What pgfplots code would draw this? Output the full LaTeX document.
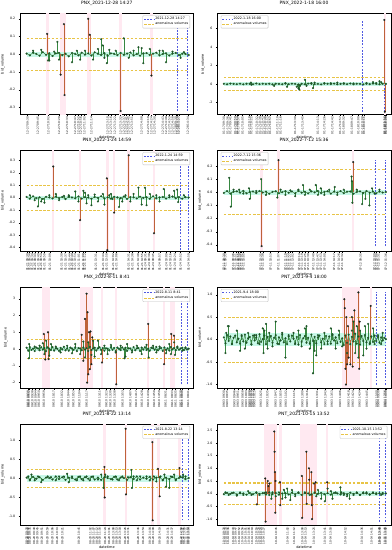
\documentclass[border=0pt]{standalone}
\usepackage{fontspec}
\setmainfont{DejaVu Sans}
\usepackage{pgfplots}
\pgfplotsset{compat=1.18}
\usepgfplotslibrary{groupplots}
\definecolor{stemg}{RGB}{55,135,65}
\definecolor{markg}{RGB}{30,85,40}
\definecolor{stemr}{RGB}{190,98,58}
\definecolor{pinkb}{RGB}{255,233,241}
\definecolor{cyanb}{RGB}{200,248,232}
\definecolor{thr}{RGB}{232,196,70}
\definecolor{evt}{RGB}{80,90,225}
\pgfplotsset{
  basel/.style={color=stemg, line width=0.5pt, mark=*, mark size=0.95pt, mark options={color=markg, line width=0.2pt}, forget plot},
  normal/.style={ycomb, color=stemg, line width=0.45pt, mark=*, mark size=0.95pt, mark options={color=markg, line width=0.2pt}, forget plot},
  anom/.style={ycomb, color=stemr, line width=0.55pt, mark=*, mark size=0.95pt, mark options={draw=black!85, fill=markg!50!black, line width=0.2pt}, forget plot},
  thrline/.style={color=thr, dash pattern=on 2.6pt off 1.6pt, line width=1.05pt, mark=none, unbounded coords=jump, forget plot},
  evtline/.style={color=evt, dash pattern=on 1.8pt off 1.4pt, line width=1.05pt, mark=none, unbounded coords=jump, forget plot},
  band/.style={fill=pinkb, draw=none, forget plot},
  cband/.style={fill=cyanb, draw=none, forget plot},
  legNE/.style={legend style={at={(0.98,0.98)}, anchor=north east}},
  legNW/.style={legend style={at={(0.02,0.98)}, anchor=north west}},
  one/.style={yticklabel style={/pgf/number format/.cd, fixed, fixed zerofill, precision=1}},
  zero/.style={yticklabel style={/pgf/number format/.cd, fixed, precision=0}},
}
\newcommand{\legs}[1]{%
\addlegendimage{color=evt, dash pattern=on 1.8pt off 1.4pt, line width=1.05pt}\addlegendentry{#1}
\addlegendimage{color=thr, dash pattern=on 2.6pt off 1.6pt, line width=1.05pt}\addlegendentry{anomalous volumes}}
\begin{document}
\begin{tikzpicture}
\begin{groupplot}[
  group style={group size=2 by 4, horizontal sep=24pt, vertical sep=36pt},
  scale only axis, width=175pt, height=102pt,
  xmin=-4, xmax=103,
  axis line style={line width=0.4pt},
  tick style={line width=0.3pt, black},
  major tick length=1.5pt, tick align=outside,
  xtick pos=lower, ytick pos=left,
  /pgf/number format/assume math mode=true,
  yticklabel style={font=\fontsize{3.2}{3.6}\selectfont},
  xticklabel style={rotate=90, anchor=east, font=\fontsize{2.8}{3.2}\selectfont, inner sep=0.8pt},
  xlabel={datetime}, ylabel={bid\_volume},
  xlabel style={font=\fontsize{3.5}{4}\selectfont, inner sep=1pt},
  ylabel style={font=\fontsize{3.5}{4}\selectfont, inner sep=1pt},
  title style={font=\fontsize{4.5}{5}\selectfont, inner sep=1.5pt},
  legend style={font=\fontsize{3.3}{3.8}\selectfont, draw=black!25, rounded corners=0.8pt, inner sep=0.8pt, row sep=-0.6pt, nodes={inner sep=0.9pt}},
  legend cell align=left,
  legend image code/.code={\draw[#1] (0pt,0pt) -- (10pt,0pt);},
]
% ---------------- 1 ----------------
\nextgroupplot[title={PNX\_2021-12-28 14:27}, legNE, one,
  ymin=-0.34, ymax=0.23, ytick={-0.3,-0.2,-0.1,0,0.1,0.2},
  xtick={0.6,7,13.5,20,25,30,32,33.5,35.7,40,50,52,54.5,58,60,61.6,63,65,71,75,77,79,84,86,88,90,92,93,94,99.5},
  xticklabels={12-27 09:30,12-27 09:45,12-27 10:02,12-27 10:20,12-27 10:33,12-27 10:47,12-27 10:52,12-27 10:56,12-27 11:02,12-27 11:14,12-27 13:10,12-27 13:16,12-27 13:22,12-27 13:32,12-27 13:37,12-27 13:41,12-27 13:45,12-27 13:51,12-27 14:08,12-27 14:19,12-27 14:24,12-27 14:30,12-27 14:43,12-27 14:48,12-27 14:53,12-27 14:58,12-28 09:30,12-28 14:20,12-28 14:27,12-28 14:34}]
\legs{2021-12-28 14:27}
\addplot[band] coordinates {(11.8,-0.34)(11.8,0.23)(13.6,0.23)(13.6,-0.34)} --cycle;
\addplot[band] coordinates {(20.3,-0.34)(20.3,0.23)(24.6,0.23)(24.6,-0.34)} --cycle;
\addplot[band] coordinates {(37.2,-0.34)(37.2,0.23)(39.8,0.23)(39.8,-0.34)} --cycle;
\addplot[band] coordinates {(57.2,-0.34)(57.2,0.23)(58.8,0.23)(58.8,-0.34)} --cycle;
\addplot[band] coordinates {(76.2,-0.34)(76.2,0.23)(77.8,0.23)(77.8,-0.34)} --cycle;
\addplot[cband] coordinates {(0,-0.015)(0,0.015)(100,0.015)(100,-0.015)} --cycle;
\addplot[thrline] coordinates {(0,0.09)(100,0.09)(100,nan)(0,-0.09)(100,-0.09)};
\addplot[evtline] coordinates {(93,-0.32)(93,0.2)(93,nan)(99.4,-0.32)(99.4,0.2)};
\addplot[basel] table[x expr=2*\coordindex, y index=0, header=false, row sep=\\] {0.004\\ -0.006\\ 0.010\\ 0.002\\ -0.008\\ 0.012\\ -0.003\\ 0.006\\ -0.010\\ 0.005\\ 0.008\\ -0.005\\ 0.003\\ -0.012\\ 0.007\\ 0.002\\ -0.006\\ 0.009\\ -0.002\\ 0.005\\ -0.007\\ 0.011\\ 0.003\\ -0.004\\ 0.006\\ -0.009\\ 0.005\\ 0.002\\ -0.005\\ 0.008\\ -0.003\\ 0.004\\ 0.010\\ -0.006\\ 0.002\\ -0.008\\ 0.005\\ 0.007\\ -0.004\\ 0.003\\ 0.009\\ -0.006\\ 0.002\\ 0.006\\ -0.007\\ 0.004\\ 0.008\\ -0.005\\ 0.003\\ 0.002\\ -0.004\\};
\addplot[normal] coordinates {(4,0.02)(9,0.025)(13.2,-0.035)(14,-0.035)(17,0.015)(19,0.07)(20,-0.03)(28,-0.045)(31,0.02)(33,-0.03)(36,0.02)(41,-0.03)(44,0.03)(46,0.085)(47,0.05)(48,-0.02)(49.5,-0.05)(51,0.025)(55,0.02)(60,0.09)(63,-0.02)(66,0.02)(69,0.04)(71,0.035)(72,-0.05)(76,0.03)(82,0.02)(84,0.02)(86,-0.045)(90,0.015)(95,-0.02)(97,0.012)};
\addplot[anom] coordinates {(12.7,0.115)(21,-0.115)(23,0.17)(23.4,-0.23)(38,0.2)(39,0.11)(58,-0.32)(77,-0.12)};
% ---------------- 2 ----------------
\nextgroupplot[title={PNX\_2022-1-18 16:00}, legNW, zero,
  ymin=-3.3, ymax=7.6, ytick={-2,0,2,4,6},
  xtick={0,2.4,4,7,8.2,9,11.6,15.7,17,20.4,22.2,23.9,25.5,27,28.6,33,35,44,48.6,58,62,67,71.8,73.9,79,83,85.5,86.5,99,99.6,100},
  xticklabels={01-17 09:30,01-17 09:36,01-17 09:41,01-17 09:50,01-17 09:54,01-17 09:57,01-17 10:05,01-17 10:18,01-17 10:22,01-17 10:32,01-17 10:38,01-17 10:43,01-17 10:48,01-17 10:52,01-17 10:57,01-17 11:10,01-17 11:16,01-17 13:30,01-17 13:45,01-17 14:13,01-17 14:26,01-17 14:42,01-17 14:57,01-18 09:32,01-18 09:47,01-18 10:00,01-18 10:08,01-18 10:11,01-18 15:52,01-18 15:56,01-18 16:00}]
\legs{2022-1-18 16:00}
\addplot[band] coordinates {(98.6,-3.3)(98.6,7.6)(100,7.6)(100,-3.3)} --cycle;
\addplot[cband] coordinates {(0,-0.2)(0,0.2)(100,0.2)(100,-0.2)} --cycle;
\addplot[thrline] coordinates {(0,0.7)(100,0.7)(100,nan)(0,-0.7)(100,-0.7)};
\addplot[evtline] coordinates {(85.5,-3.0)(85.5,6.9)(85.5,nan)(99,-3.0)(99,6.9)};
\addplot[basel] table[x expr=2*\coordindex, y index=0, header=false, row sep=\\] {0.02\\ -0.03\\ 0.04\\ 0.01\\ -0.02\\ 0.03\\ -0.04\\ 0.02\\ 0.01\\ -0.03\\ 0.05\\ -0.02\\ 0.02\\ -0.01\\ 0.03\\ -0.04\\ 0.02\\ 0.01\\ -0.03\\ 0.04\\ -0.02\\ 0.03\\ 0.01\\ -0.05\\ 0.02\\ -0.03\\ 0.04\\ 0.02\\ -0.02\\ 0.01\\ -0.04\\ 0.03\\ 0.02\\ -0.01\\ 0.04\\ -0.03\\ 0.01\\ 0.02\\ -0.02\\ 0.05\\ -0.03\\ 0.02\\ 0.01\\ -0.04\\ 0.03\\ -0.02\\ 0.04\\ 0.01\\ -0.03\\ 0.02\\ 0.01\\};
\addplot[normal] coordinates {(16.7,0.15)(17,-0.08)(31,-0.2)(38,0.1)(39,-0.3)(45,-0.3)(46,-0.45)(46.5,-0.6)(47,-0.2)(50,0.45)(51,-0.2)(54,0.1)(55,-0.45)(56,0.15)(62,0.1)(66,0.08)(70,0.15)(74,0.08)(80,0.05)(88,0.1)(92,0.2)(94,0.1)(96,0.3)(97,0.2)};
\addplot[anom] coordinates {(99,6.9)(99.3,-3.0)};
% ---------------- 3 ----------------
\nextgroupplot[title={PNX\_2022-1-24 14:59}, legNE, one,
  ymin=-0.43, ymax=0.38, ytick={-0.4,-0.3,-0.2,-0.1,0,0.1,0.2,0.3},
  xtick={0.4,1.8,3.5,5.3,7.2,9,10.9,14.4,21.6,24,26.5,28.1,29.8,32.2,34.9,35.9,42.7,47.2,49.3,53.4,55.4,63,65.3,68.8,71.3,73.3,75.6,78,82.1,86.2,88.7,91.4,95,100},
  xticklabels={01-21 09:30,01-21 09:34,01-21 09:39,01-21 09:44,01-21 09:49,01-21 09:54,01-21 09:59,01-21 10:09,01-21 10:30,01-21 10:37,01-21 10:44,01-21 10:49,01-21 10:54,01-21 11:01,01-21 11:09,01-21 11:12,01-21 13:31,01-21 13:44,01-21 13:50,01-21 14:02,01-21 14:08,01-21 14:31,01-21 14:38,01-21 14:48,01-21 14:55,01-24 09:31,01-24 09:38,01-24 09:45,01-24 09:57,01-24 10:09,01-24 10:16,01-24 10:24,01-24 14:52,01-24 14:59}]
\legs{2022-1-24 14:59}
\addplot[band] coordinates {(15.6,-0.43)(15.6,0.38)(17.2,0.38)(17.2,-0.43)} --cycle;
\addplot[band] coordinates {(32.2,-0.43)(32.2,0.38)(33.8,0.38)(33.8,-0.43)} --cycle;
\addplot[band] coordinates {(48.7,-0.43)(48.7,0.38)(50.6,0.38)(50.6,-0.43)} --cycle;
\addplot[band] coordinates {(53.2,-0.43)(53.2,0.38)(54.8,0.38)(54.8,-0.43)} --cycle;
\addplot[band] coordinates {(62.2,-0.43)(62.2,0.38)(63.8,0.38)(63.8,-0.43)} --cycle;
\addplot[band] coordinates {(77.8,-0.43)(77.8,0.38)(79.4,0.38)(79.4,-0.43)} --cycle;
\addplot[cband] coordinates {(0,-0.015)(0,0.015)(100,0.015)(100,-0.015)} --cycle;
\addplot[thrline] coordinates {(0,0.1)(100,0.1)(100,nan)(0,-0.1)(100,-0.1)};
\addplot[evtline] coordinates {(95,-0.42)(95,0.34)(95,nan)(100,-0.42)(100,0.34)};
\addplot[basel] table[x expr=2*\coordindex, y index=0, header=false, row sep=\\] {0.006\\ -0.008\\ 0.011\\ -0.004\\ 0.003\\ -0.010\\ 0.007\\ 0.002\\ -0.006\\ 0.009\\ -0.003\\ 0.005\\ -0.011\\ 0.008\\ 0.002\\ -0.005\\ 0.010\\ -0.007\\ 0.004\\ 0.001\\ -0.009\\ 0.006\\ -0.002\\ 0.012\\ -0.006\\ 0.003\\ -0.008\\ 0.007\\ 0.002\\ -0.004\\ 0.009\\ -0.010\\ 0.005\\ 0.003\\ -0.006\\ 0.008\\ -0.002\\ 0.004\\ -0.009\\ 0.011\\ -0.005\\ 0.002\\ 0.006\\ -0.007\\ 0.003\\ 0.009\\ -0.004\\ 0.005\\ -0.008\\ 0.004\\ 0.002\\};
\addplot[normal] coordinates {(2,0.02)(5,-0.02)(7,-0.07)(9,-0.03)(11,-0.04)(14,0.02)(18,0.03)(20,-0.02)(23,0.015)(26,0.02)(30,0.05)(32,-0.03)(35,0.055)(36,0.04)(37,-0.045)(38,0.02)(40,-0.06)(42,0.025)(44,-0.03)(47,0.03)(48,-0.055)(51,0.02)(52,0.03)(53,-0.01)(57,-0.075)(59,-0.03)(61,0.02)(64,-0.03)(66,0.03)(69,0.08)(71,-0.055)(73,0.08)(74,-0.06)(76,0.03)(80,0.02)(82,-0.03)(84.6,0.07)(88,0.02)(91,0.055)(92.8,0.065)(93.5,-0.035)(97,0.02)};
\addplot[anom] coordinates {(16.4,0.25)(33,-0.18)(49.5,0.155)(49.8,-0.42)(54,-0.12)(63,0.34)(78.6,-0.285)};
% ---------------- 4 ----------------
\nextgroupplot[title={PNX\_2022-7-12 15:36}, legNW, one,
  ymin=-0.45, ymax=0.32, ytick={-0.4,-0.3,-0.2,-0.1,0,0.1,0.2},
  xtick={0,1,5.7,7.3,8.8,9.8,10.8,12.2,22.7,24.1,28.8,33.7,38,39.4,40.8,42.4,46.5,48.2,50.2,52,55.3,57.8,59.8,62.2,68,71,73,84.3,92.9,94.1,95.5,100},
  xticklabels={07-11 09:30,07-11 09:33,07-11 09:46,07-11 09:51,07-11 09:55,07-11 09:58,07-11 10:01,07-11 10:05,07-11 10:35,07-11 10:39,07-11 10:53,07-11 11:07,07-11 11:19,07-11 11:23,07-11 11:27,07-11 13:02,07-11 13:14,07-11 13:19,07-11 13:25,07-11 13:30,07-11 13:40,07-11 13:47,07-11 13:53,07-11 14:00,07-11 14:17,07-11 14:26,07-11 14:32,07-12 09:35,07-12 10:00,07-12 10:04,07-12 15:31,07-12 15:36}]
\legs{2022-7-12 15:36}
\addplot[band] coordinates {(22.3,-0.45)(22.3,0.32)(24.2,0.32)(24.2,-0.45)} --cycle;
\addplot[band] coordinates {(33,-0.45)(33,0.32)(34.6,0.32)(34.6,-0.45)} --cycle;
\addplot[band] coordinates {(79,-0.45)(79,0.32)(80.6,0.32)(80.6,-0.45)} --cycle;
\addplot[cband] coordinates {(0,-0.02)(0,0.02)(100,0.02)(100,-0.02)} --cycle;
\addplot[thrline] coordinates {(0,0.17)(100,0.17)(100,nan)(0,-0.17)(100,-0.17)};
\addplot[evtline] coordinates {(93.5,-0.41)(93.5,0.245)(93.5,nan)(99.8,-0.41)(99.8,0.245)};
\addplot[basel] table[x expr=2*\coordindex, y index=0, header=false, row sep=\\] {-0.005\\ 0.009\\ -0.010\\ 0.004\\ 0.007\\ -0.003\\ 0.011\\ -0.008\\ 0.002\\ 0.006\\ -0.006\\ 0.010\\ -0.002\\ 0.005\\ -0.011\\ 0.003\\ 0.008\\ -0.007\\ 0.001\\ 0.009\\ -0.004\\ 0.006\\ -0.009\\ 0.012\\ -0.003\\ 0.004\\ -0.008\\ 0.007\\ -0.001\\ 0.010\\ -0.006\\ 0.003\\ 0.008\\ -0.010\\ 0.005\\ -0.002\\ 0.009\\ -0.007\\ 0.004\\ 0.006\\ -0.011\\ 0.002\\ 0.007\\ -0.005\\ 0.010\\ -0.003\\ 0.005\\ -0.008\\ 0.006\\ -0.002\\ 0.003\\};
\addplot[normal] coordinates {(3.3,0.11)(4.3,-0.11)(6,0.02)(9.4,0.02)(12,-0.01)(15.5,0.03)(16,-0.05)(20,0.01)(23,0.10)(26,-0.02)(33,-0.04)(35,0.02)(38,-0.02)(41,0.015)(44,-0.03)(46,0.02)(48.8,0.055)(50,-0.02)(53,0.02)(56.7,0.055)(58,-0.02)(59.8,0.03)(62,-0.02)(65,0.02)(68.4,0.04)(70,-0.02)(74,0.02)(78.8,0.12)(79,0.085)(79.3,-0.08)(82,0.02)(85.3,-0.09)(87.3,-0.05)(89.8,-0.1)(91.4,0.03)(93,-0.01)(96,0.02)};
\addplot[anom] coordinates {(23.3,-0.41)(33.7,0.245)(79.8,0.23)};
% ---------------- 5 ----------------
\nextgroupplot[title={PNX\_2022-8-11 8:41}, legNE, zero,
  ymin=-2.33, ymax=3.7, ytick={-2,-1,0,1,2,3},
  xtick={0.8,1.4,3.5,5.5,7.5,10.6,16.7,21.7,25.8,28.9,32.5,37,45,49.2,51.6,54.3,59.3,64,67.5,71.1,75,78.7,81.7,85.8,89.8,91.9,95,96,99.6},
  xticklabels={08-10 09:30,08-10 09:32,08-10 09:38,08-10 09:44,08-10 09:50,08-10 09:59,08-10 10:17,08-10 10:32,08-10 10:44,08-10 10:53,08-10 11:04,08-10 11:17,08-10 13:11,08-10 13:23,08-10 13:30,08-10 13:38,08-10 13:53,08-10 14:07,08-10 14:17,08-10 14:28,08-10 14:39,08-10 14:50,08-10 14:59,08-11 08:31,08-11 08:33,08-11 08:35,08-11 08:38,08-11 08:40,08-11 08:41}]
\legs{2022-8-11 8:41}
\addplot[band] coordinates {(9.5,-2.33)(9.5,3.7)(14.5,3.7)(14.5,-2.33)} --cycle;
\addplot[band] coordinates {(33,-2.33)(33,3.7)(41,3.7)(41,-2.33)} --cycle;
\addplot[band] coordinates {(45.8,-2.33)(45.8,3.7)(47.2,3.7)(47.2,-2.33)} --cycle;
\addplot[band] coordinates {(54.6,-2.33)(54.6,3.7)(56,3.7)(56,-2.33)} --cycle;
\addplot[band] coordinates {(74.2,-2.33)(74.2,3.7)(75.8,3.7)(75.8,-2.33)} --cycle;
\addplot[band] coordinates {(84,-2.33)(84,3.7)(85.6,3.7)(85.6,-2.33)} --cycle;
\addplot[band] coordinates {(88.5,-2.33)(88.5,3.7)(91.8,3.7)(91.8,-2.33)} --cycle;
\addplot[cband] coordinates {(0,-0.12)(0,0.12)(100,0.12)(100,-0.12)} --cycle;
\addplot[thrline] coordinates {(0,0.58)(100,0.58)(100,nan)(0,-0.58)(100,-0.58)};
\addplot[evtline] coordinates {(95.3,-2.1)(95.3,3.3)(95.3,nan)(99.4,-2.1)(99.4,3.3)};
\addplot[basel] table[x expr=\coordindex, y index=0, header=false, row sep=\\] {0.08\\ -0.10\\ 0.12\\ -0.05\\ 0.03\\ -0.12\\ 0.09\\ 0.04\\ -0.07\\ 0.11\\ -0.03\\ 0.06\\ -0.13\\ 0.10\\ 0.02\\ -0.06\\ 0.12\\ -0.09\\ 0.05\\ 0.01\\ -0.11\\ 0.07\\ -0.02\\ 0.14\\ -0.08\\ 0.04\\ -0.10\\ 0.09\\ 0.03\\ -0.05\\ 0.11\\ -0.12\\ 0.06\\ 0.04\\ -0.07\\ 0.10\\ -0.03\\ 0.05\\ -0.11\\ 0.13\\ -0.06\\ 0.03\\ 0.08\\ -0.09\\ 0.04\\ 0.11\\ -0.05\\ 0.06\\ -0.10\\ 0.05\\ 0.02\\ -0.08\\ 0.12\\ -0.04\\ 0.07\\ -0.13\\ 0.09\\ 0.01\\ -0.06\\ 0.10\\ -0.02\\ 0.08\\ -0.11\\ 0.05\\ 0.03\\ -0.09\\ 0.12\\ -0.07\\ 0.04\\ 0.06\\ -0.12\\ 0.09\\ -0.03\\ 0.11\\ -0.06\\ 0.02\\ -0.10\\ 0.08\\ 0.05\\ -0.04\\ 0.13\\ -0.08\\ 0.03\\ 0.07\\ -0.11\\ 0.10\\ -0.05\\ 0.04\\ -0.09\\ 0.12\\ -0.02\\ 0.06\\ -0.07\\ 0.09\\ -0.04\\ 0.03\\ 0.08\\ -0.06\\ 0.05\\ -0.03\\ 0.02\\};
\addplot[normal] coordinates {(1.4,-0.55)(1.6,0.3)(5,0.15)(8,0.2)(10,0.35)(11,-0.3)(12,0.5)(14,-0.4)(15,0.3)(18,0.15)(21,-0.2)(25,0.2)(28,-0.25)(30,0.3)(33,-0.3)(35,0.45)(36,-0.5)(38,0.4)(40,-0.35)(41,0.5)(42,-0.45)(44,0.5)(46,-0.3)(48,0.2)(50,-0.3)(52,0.25)(55,-0.2)(58,0.2)(60.4,-0.55)(61,-0.45)(62,0.3)(65,-0.2)(68,0.2)(71,-0.3)(74,0.25)(75.3,-0.5)(78,0.2)(80,-0.2)(82,0.15)(86,-0.25)(88,0.3)(89,-0.3)(91,0.4)(91.5,-0.35)(93,0.15)(96,-0.1)(98,0.1)};
\addplot[anom] coordinates {(10.6,0.9)(11.5,-0.62)(13.2,1.0)(13.6,-0.6)(34,0.85)(35,-0.7)(36,1.8)(37,3.3)(37.3,-2.0)(37.6,2.2)(38,-1.5)(38.5,1.0)(39,-1.2)(39.4,1.05)(40,-0.9)(40.5,0.7)(46.5,-0.8)(55.3,-2.1)(75,1.5)(84.8,-0.9)(89.2,0.9)(90.9,0.8)};
% ---------------- 6 ----------------
\nextgroupplot[title={PNT\_2021-9-4 18:00}, legNW, one,
  ymin=-1.08, ymax=1.17, ytick={-1,-0.5,0,0.5,1},
  xtick={0,2,6.5,8.6,11.6,13.7,15.7,16.7,17.8,18.8,22.9,26.9,32,35,38.2,43.3,48.4,51.4,57.6,62.7,66.7,71.8,77,79.6,83.7,88.2,94.3,95.3,99.4,100},
  xticklabels={09-03 09:30,09-03 09:35,09-03 09:46,09-03 09:51,09-03 09:58,09-03 10:03,09-03 10:08,09-03 10:10,09-03 10:13,09-03 10:15,09-03 10:25,09-03 10:35,09-03 10:47,09-03 10:55,09-03 11:02,09-03 11:15,09-03 13:09,09-03 13:16,09-03 13:31,09-03 13:43,09-03 13:53,09-03 14:06,09-03 14:18,09-03 14:24,09-03 14:34,09-03 14:45,09-03 15:00,09-04 09:30,09-04 17:56,09-04 18:00}]
\legs{2021-9-4 18:00}
\addplot[band] coordinates {(73.2,-1.08)(73.2,1.17)(84.2,1.17)(84.2,-1.08)} --cycle;
\addplot[band] coordinates {(90,-1.08)(90,1.17)(91.4,1.17)(91.4,-1.08)} --cycle;
\addplot[cband] coordinates {(0,-0.15)(0,0.15)(100,0.15)(100,-0.15)} --cycle;
\addplot[thrline] coordinates {(0,0.5)(100,0.5)(100,nan)(0,-0.5)(100,-0.5)};
\addplot[evtline] coordinates {(94.3,-1.0)(94.3,1.05)(94.3,nan)(99.6,-1.0)(99.6,1.05)};
\addplot[basel] table[x expr=\coordindex, y index=0, header=false, row sep=\\] {0.05\\ -0.08\\ 0.10\\ -0.03\\ 0.07\\ -0.10\\ 0.04\\ 0.09\\ -0.06\\ 0.02\\ -0.09\\ 0.08\\ -0.04\\ 0.11\\ -0.07\\ 0.03\\ 0.06\\ -0.11\\ 0.09\\ -0.02\\ 0.05\\ -0.08\\ 0.12\\ -0.05\\ 0.01\\ 0.09\\ -0.10\\ 0.06\\ -0.03\\ 0.08\\ -0.07\\ 0.04\\ 0.10\\ -0.09\\ 0.05\\ -0.02\\ 0.11\\ -0.06\\ 0.03\\ -0.10\\ 0.07\\ -0.04\\ 0.09\\ 0.02\\ -0.08\\ 0.06\\ -0.11\\ 0.10\\ -0.05\\ 0.03\\ 0.08\\ -0.07\\ 0.04\\ -0.09\\ 0.11\\ -0.03\\ 0.06\\ -0.08\\ 0.05\\ 0.09\\ -0.06\\ 0.02\\ -0.10\\ 0.08\\ -0.04\\ 0.07\\ -0.09\\ 0.12\\ -0.02\\ 0.05\\ -0.08\\ 0.10\\ -0.05\\ 0.03\\ -0.12\\ 0.09\\ -0.07\\ 0.11\\ -0.10\\ 0.06\\ -0.04\\ 0.13\\ -0.09\\ 0.07\\ -0.11\\ 0.08\\ -0.03\\ 0.10\\ -0.06\\ 0.04\\ -0.08\\ 0.07\\ -0.05\\ 0.09\\ -0.03\\ 0.06\\ -0.07\\ 0.05\\ -0.02\\ 0.04\\ 0.01\\};
\addplot[normal] coordinates {(1,-0.3)(1.5,0.15)(2.5,0.3)(3,0.3)(5,-0.1)(8,0.2)(10,-0.25)(11,0.1)(13,-0.2)(15,0.15)(17,-0.1)(19,0.1)(20,0.1)(22,-0.1)(24,0.25)(24.5,-0.3)(25,0.2)(26,0.35)(27,-0.2)(28,0.15)(30,-0.15)(32,0.4)(34,-0.1)(36,0.15)(38,-0.4)(40,0.1)(43,0.15)(44,-0.1)(46,0.2)(48,-0.15)(50,0.25)(51,0.3)(53,-0.2)(55,-0.75)(56,-0.25)(57,-0.35)(58,0.1)(60,-0.2)(62,0.15)(64,-0.1)(66,0.25)(67,0.1)(69,-0.2)(71,0.2)(73,-0.15)(76,-0.3)(79,0.2)(80,0.4)(81,-0.3)(82,0.3)(83,-0.4)(84,0.2)(86,-0.35)(87,0.3)(88,-0.2)(89,0.35)(90,-0.1)(92,0.25)(93,-0.1)(95,0.1)(97,-0.1)(98,0.15)};
\addplot[anom] coordinates {(74.3,0.9)(74.6,0.7)(75,-0.65)(75.3,-1.0)(75.6,0.5)(76,-0.55)(76.5,0.3)(77,-0.4)(78,-0.55)(79,0.5)(79.5,-0.6)(80.5,0.65)(83,1.05)(83.5,-0.65)(83.8,0.4)(90.6,0.75)};
% ---------------- 7 ----------------
\nextgroupplot[title={PNT\_2021-8-22 13:14}, legNE, one,
  ymin=-1.22, ymax=1.43, ytick={-1,-0.5,0,0.5,1},
  xtick={0,1,2,4.7,6.7,9.4,12.8,15.9,18.9,22,32.2,39.3,41.3,43.4,45,48.5,50.9,53.6,55.6,57.6,60.7,62.7,68.8,71.9,76,78,82.1,87.2,89.6,95.3,96.3,97.4,99.4,100},
  xticklabels={08-20 09:30,08-20 09:32,08-20 09:35,08-20 09:40,08-20 09:45,08-20 09:51,08-20 09:59,08-20 10:06,08-20 10:13,08-20 10:21,08-20 10:45,08-20 11:02,08-20 11:07,08-20 11:12,08-20 11:16,08-20 11:24,08-20 13:01,08-20 13:08,08-20 13:13,08-20 13:18,08-20 13:26,08-20 13:31,08-20 13:46,08-20 13:54,08-20 14:04,08-20 14:09,08-20 14:19,08-20 14:31,08-20 14:37,08-22 12:58,08-22 13:01,08-22 13:05,08-22 13:10,08-22 13:14}]
\legs{2021-8-22 13:14}
\addplot[band] coordinates {(47.2,-1.22)(47.2,1.43)(49.2,1.43)(49.2,-1.22)} --cycle;
\addplot[band] coordinates {(60.4,-1.22)(60.4,1.43)(62,1.43)(62,-1.22)} --cycle;
\addplot[band] coordinates {(76.8,-1.22)(76.8,1.43)(78.6,1.43)(78.6,-1.22)} --cycle;
\addplot[band] coordinates {(80.6,-1.22)(80.6,1.43)(82.6,1.43)(82.6,-1.22)} --cycle;
\addplot[band] coordinates {(93.6,-1.22)(93.6,1.43)(95,1.43)(95,-1.22)} --cycle;
\addplot[cband] coordinates {(0,-0.1)(0,0.1)(100,0.1)(100,-0.1)} --cycle;
\addplot[thrline] coordinates {(0,0.24)(100,0.24)(100,nan)(0,-0.24)(100,-0.24)};
\addplot[evtline] coordinates {(95.9,-1.1)(95.9,1.3)(95.9,nan)(99.8,-1.1)(99.8,1.3)};
\addplot[basel] table[x expr=2*\coordindex, y index=0, header=false, row sep=\\] {0.02\\ -0.03\\ 0.04\\ -0.01\\ 0.03\\ -0.04\\ 0.02\\ 0.01\\ -0.03\\ 0.05\\ -0.02\\ 0.03\\ -0.04\\ 0.02\\ 0.01\\ -0.03\\ 0.04\\ -0.02\\ 0.03\\ -0.01\\ 0.04\\ -0.03\\ 0.02\\ -0.04\\ 0.03\\ 0.01\\ -0.02\\ 0.04\\ -0.03\\ 0.02\\ 0.01\\ -0.04\\ 0.03\\ -0.02\\ 0.05\\ -0.03\\ 0.02\\ -0.01\\ 0.04\\ -0.03\\ 0.02\\ 0.03\\ -0.04\\ 0.02\\ -0.02\\ 0.04\\ -0.03\\ 0.01\\ 0.03\\ -0.02\\ 0.01\\};
\addplot[normal] coordinates {(1,0.05)(2,-0.05)(3,0.1)(5,-0.05)(7,0.05)(9,-0.1)(13,0.05)(15,0.03)(18,-0.05)(20,0.05)(23,0.05)(25,0.12)(26,-0.1)(28,0.05)(31,-0.05)(33,0.05)(35,-0.05)(37,0.05)(39,-0.05)(41,0.05)(44,-0.03)(46,0.1)(47.5,-0.25)(48.5,0.1)(50,0.05)(53,-0.03)(55,0.05)(57,-0.05)(59,0.05)(62.5,0.03)(64.6,0.22)(65,-0.25)(66,0.05)(68,-0.05)(70,0.05)(74,0.05)(76,-0.05)(78.5,0.05)(80,-0.08)(82.6,0.05)(84,-0.05)(85,0.1)(86,-0.22)(88,-0.25)(89,0.05)(91,0.1)(92,-0.05)(94.8,0.05)(96.5,0.1)(98,0.05)};
\addplot[anom] coordinates {(48,0.3)(48.2,-0.5)(61.1,1.3)(61.3,-0.42)(77.6,0.95)(77.8,-1.1)(81,0.25)(82.1,-0.47)(94.3,0.27)};
% ---------------- 8 ----------------
\nextgroupplot[title={PNT\_2021-10-15 13:52}, legNE, one,
  ymin=-1.23, ymax=2.75, ytick={-1,-0.5,0,0.5,1,1.5,2,2.5},
  xtick={0,1.2,2.6,5.7,7.3,9.4,11.4,13.4,15.5,17.5,20,21.6,23,24.6,32.2,39.3,43.4,48.5,50.5,55.6,62.3,65.8,75,85.1,91.2,95.9,96.3,99.4,100},
  xticklabels={10-14 09:30,10-14 09:33,10-14 09:36,10-14 09:43,10-14 09:47,10-14 09:52,10-14 09:56,10-14 10:01,10-14 10:06,10-14 10:10,10-14 10:16,10-14 10:20,10-14 10:23,10-14 10:27,10-14 10:45,10-14 11:02,10-14 11:12,10-14 13:08,10-14 13:13,10-14 13:25,10-14 13:41,10-14 13:50,10-14 14:12,10-14 14:36,10-14 14:51,10-15 13:40,10-15 13:43,10-15 13:48,10-15 13:52}]
\legs{2021-10-15 13:52}
\addplot[band] coordinates {(24.6,-1.23)(24.6,2.75)(32.6,2.75)(32.6,-1.23)} --cycle;
\addplot[band] coordinates {(34,-1.23)(34,2.75)(35.6,2.75)(35.6,-1.23)} --cycle;
\addplot[band] coordinates {(47.2,-1.23)(47.2,2.75)(57.4,2.75)(57.4,-1.23)} --cycle;
\addplot[band] coordinates {(63,-1.23)(63,2.75)(64.4,2.75)(64.4,-1.23)} --cycle;
\addplot[cband] coordinates {(0,-0.1)(0,0.1)(100,0.1)(100,-0.1)} --cycle;
\addplot[thrline] coordinates {(0,0.42)(100,0.42)(100,nan)(0,-0.42)(100,-0.42)};
\addplot[evtline] coordinates {(96.3,-1.1)(96.3,2.45)(96.3,nan)(99.8,-1.1)(99.8,2.45)};
\addplot[basel] table[x expr=2*\coordindex, y index=0, header=false, row sep=\\] {-0.02\\ 0.03\\ -0.01\\ 0.04\\ -0.03\\ 0.02\\ 0.01\\ -0.04\\ 0.03\\ -0.02\\ 0.04\\ -0.01\\ 0.02\\ -0.03\\ 0.05\\ -0.02\\ 0.03\\ -0.04\\ 0.01\\ 0.02\\ -0.03\\ 0.04\\ -0.02\\ 0.03\\ -0.05\\ 0.02\\ 0.01\\ -0.03\\ 0.04\\ -0.01\\ 0.03\\ -0.02\\ 0.02\\ -0.04\\ 0.03\\ 0.01\\ -0.03\\ 0.02\\ -0.02\\ 0.04\\ -0.01\\ 0.03\\ -0.04\\ 0.02\\ 0.01\\ -0.03\\ 0.03\\ -0.02\\ 0.02\\ -0.01\\ 0.01\\};
\addplot[normal] coordinates {(1,0.05)(3,-0.05)(5,0.03)(8,-0.08)(10,0.05)(12,-0.05)(15,0.1)(17,-0.05)(20,0.05)(22,-0.05)(25,0.03)(26,0.05)(28,-0.05)(29.3,-0.2)(30,0.05)(32,-0.1)(34,0.05)(36,-0.2)(37,0.15)(38,-0.15)(39,0.2)(41,-0.25)(42,0.15)(44,-0.1)(46,0.05)(50,0.05)(53,-0.05)(57,-0.1)(58,0.15)(60,-0.2)(62.3,-0.3)(64,0.2)(66,0.1)(67,-0.2)(69,0.05)(71.9,0.25)(72.5,0.05)(74,-0.05)(76,-0.1)(77.6,-0.2)(80,-0.05)(82,0.05)(84,-0.05)(86,0.05)(88,0.05)(90,-0.03)(92,0.05)(94,0.02)(97,-0.05)(98,0.03)};
\addplot[anom] coordinates {(20.4,-0.42)(25.5,0.6)(25.8,-1.1)(27.1,0.5)(27.5,0.3)(28.1,0.4)(31.1,2.45)(31.3,1.65)(31.5,0.85)(31.7,-0.75)(31.9,0.5)(34.6,0.45)(34.8,-0.45)(48.1,0.7)(48.3,-0.95)(50.9,1.65)(51.1,-0.4)(52.5,1.0)(52.7,0.55)(54,0.85)(54.2,-0.45)(54.4,-1.0)(55.6,0.4)(56.6,0.45)(63.7,0.45)};
\end{groupplot}
\end{tikzpicture}
\end{document}
